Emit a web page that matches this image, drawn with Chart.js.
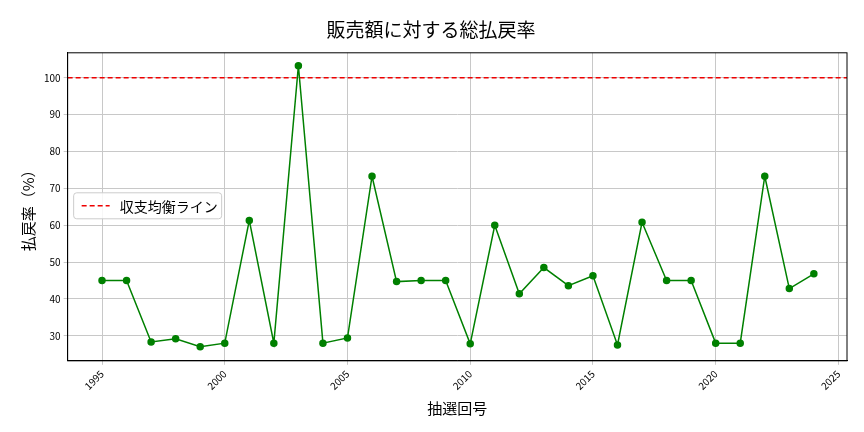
<!DOCTYPE html>
<html><head><meta charset="utf-8">
<script src="https://cdn.jsdelivr.net/npm/chart.js@4"></script>
<style>body{margin:0;background:#fff}#w{width:864px;height:432px}</style>
</head><body><div id="w"><canvas id="c"></canvas></div>
<script>
const years=[1995,1996,1997,1998,1999,2000,2001,2002,2003,2004,2005,2006,2007,2008,2009,2010,2011,2012,2013,2014,2015,2016,2017,2018,2019,2020,2021,2022,2023,2024];
const payout=[45,45,28.3,29.2,27,28,61.3,28,103.3,28,29.4,73.3,44.7,45,45,27.8,60,41.4,48.5,43.6,46.3,27.5,60.8,45,45,28,28,73.3,42.8,46.8];
const breakEven=100;
const xMin=1993.6,xMax=2025.35;
const F='"Noto Sans CJK JP", sans-serif';
const legendPlugin={id:'lg',afterDraw(ch){const c=ch.ctx,a=ch.chartArea;
c.save();c.strokeStyle='#000';c.lineWidth=1;c.strokeRect(a.left,a.top,a.right-a.left,a.bottom-a.top);
const x=a.left+6,y=a.top+140,w=148,h=26;
c.fillStyle='rgba(255,255,255,0.85)';c.strokeStyle='#ccc';c.beginPath();c.roundRect(x,y,w,h,3);c.fill();c.stroke();
c.strokeStyle='#e00';c.lineWidth=1.5;c.setLineDash([5,3]);c.beginPath();c.moveTo(x+8,y+h/2);c.lineTo(x+36,y+h/2);c.stroke();c.setLineDash([]);
c.fillStyle='#000';c.font='14px '+F;c.textBaseline='middle';c.fillText('収支均衡ライン',x+46,y+h/2+1);c.restore();}};
new Chart(document.getElementById('c'),{type:'scatter',
data:{datasets:[
{data:years.map((y,i)=>({x:y,y:payout[i]})),showLine:true,borderColor:'#008000',backgroundColor:'#008000',borderWidth:1.5,pointRadius:3,pointHoverRadius:3},
{data:[{x:xMin,y:breakEven},{x:xMax,y:breakEven}],showLine:true,borderColor:'#e00',borderWidth:1.5,borderDash:[5,3],pointRadius:0}
]},
options:{responsive:true,maintainAspectRatio:false,animation:false,
layout:{padding:{left:15,right:17,top:8,bottom:11}},
plugins:{legend:{display:false},tooltip:{enabled:false},
title:{display:true,text:'販売額に対する総払戻率',font:{family:F,size:19,weight:'normal'},color:'#000',padding:{top:10,bottom:12}}},
scales:{
x:{type:'linear',min:xMin,max:xMax,afterBuildTicks(s){s.ticks=[1995,2000,2005,2010,2015,2020,2025].map(v=>({value:v}));},
ticks:{maxRotation:45,minRotation:45,color:'#000',font:{family:F,size:10},callback:v=>String(v)},
grid:{color:'#c8c8c8',drawTicks:true,tickLength:4},border:{color:'#000'},
title:{display:true,text:'抽選回号',font:{family:F,size:15},color:'#000'}},
y:{min:23.2,max:106.8,afterBuildTicks(s){s.ticks=[30,40,50,60,70,80,90,100].map(v=>({value:v}));},
ticks:{color:'#000',font:{family:F,size:10}},
grid:{color:'#c8c8c8',tickLength:4},border:{color:'#000'},
title:{display:true,text:'払戻率（%）',font:{family:F,size:15},color:'#000'}}}}
,plugins:[legendPlugin]});
</script></body></html>
